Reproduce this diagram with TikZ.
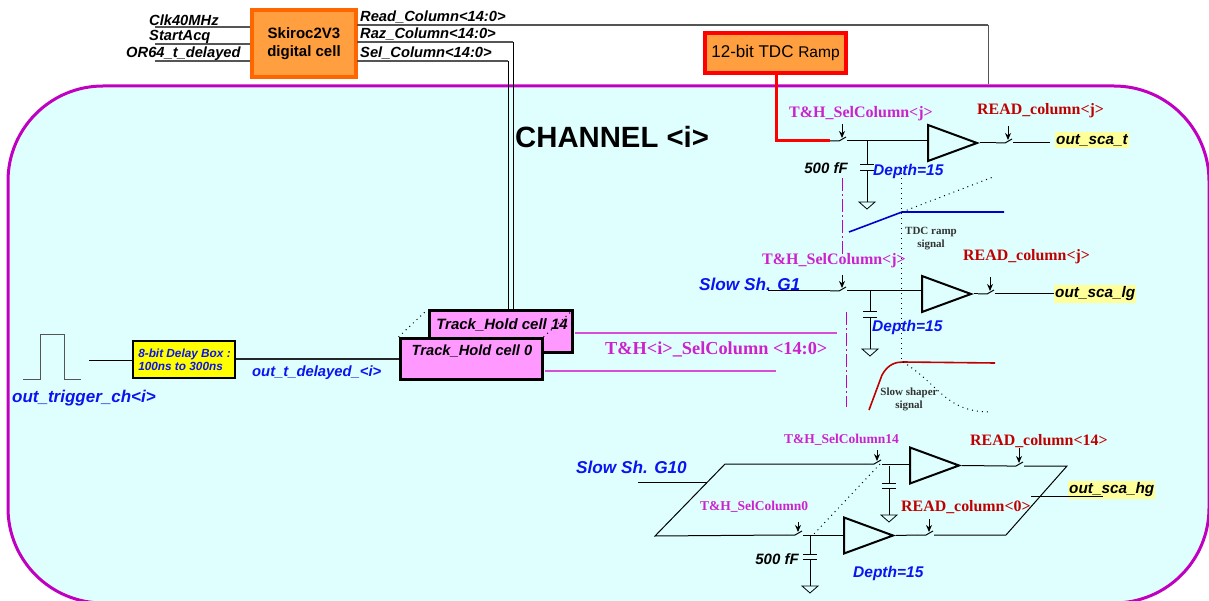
\documentclass[tikz,border=0pt]{standalone}
\usepackage{fontspec}
\setmainfont{Liberation Sans}
\newfontfamily\serifbf{Liberation Serif}
\definecolor{cyanbg}{HTML}{DFFFFF}
\definecolor{purp}{HTML}{C000C0}
\definecolor{magtxt}{HTML}{CC22CC}
\definecolor{redtxt}{HTML}{C00000}
\definecolor{bluetxt}{HTML}{0A14F0}
\definecolor{orangebox}{HTML}{FF9F40}
\definecolor{orangeline}{HTML}{FF6600}
\definecolor{pinkbox}{HTML}{FF99FF}
\definecolor{yellowbox}{HTML}{FFFF00}
\definecolor{hilite}{HTML}{FFFF99}
\definecolor{wiregray}{HTML}{555555}
\usetikzlibrary{arrows.meta,shapes.geometric}
\newcommand{\fs}[1]{\fontsize{#1}{#1}\selectfont}
\tikzset{
  sanslbl/.style={font=\fs{14.7}\bfseries\itshape,inner sep=0pt,anchor=west},
  bluelbl/.style={sanslbl,text=bluetxt},
  depthlbl/.style={sanslbl,text=bluetxt,font=\fs{15.5}\bfseries\itshape},
  slowlbl/.style={sanslbl,text=bluetxt,font=\fs{17.2}\bfseries\itshape},
  faradlbl/.style={font=\fs{15}\bfseries\itshape,inner sep=0pt},
  redlbl/.style={font=\serifbf\fs{15.9}\bfseries,text=redtxt,inner sep=0pt,anchor=west},
  maglbl/.style={font=\serifbf\fs{16}\bfseries,text=magtxt,inner sep=0pt,anchor=west},
  magsmall/.style={font=\serifbf\fs{13.5}\bfseries,text=magtxt,inner sep=0pt,anchor=west},
  sigtxt/.style={font=\serifbf\fs{11}\bfseries,text=black!80,inner sep=0pt,align=center},
  outlbl/.style={sanslbl,font=\fs{15.3}\bfseries\itshape,fill=hilite,inner ysep=2pt,inner xsep=1pt},
  wire/.style={draw=black,line width=1pt},
  thickw/.style={draw=wiregray,line width=1.7pt},
  ctl/.style={-{Stealth[length=7pt,width=6pt]},line width=.9pt},
  amp/.style={draw=black,line width=2pt,fill=none,isosceles triangle,isosceles triangle stretches,
              inner sep=0pt,minimum width=36pt,minimum height=49pt,anchor=lower side},
  gnd/.style={draw=black,line width=.8pt},
  cellbox/.style={draw=black,line width=3pt,fill=pinkbox,minimum width=142pt,minimum height=41pt,inner sep=0pt},
  corange/.style={draw=orangeline,line width=3.5pt,fill=orangebox,inner sep=0pt,align=center},
  seldash/.style={draw=purp,line width=1.2pt,dash pattern=on 13pt off 3pt on 2pt off 3pt},
  selline/.style={draw=magtxt!80,line width=1.4pt},
  dots/.style={draw=black,line width=1pt,dash pattern=on 1pt off 4pt}
}
\begin{document}
\begin{tikzpicture}[x=1pt,y=-1pt]
  \useasboundingbox (0,0) rectangle (1209,601);
  \node[draw=purp,line width=3pt,fill=cyanbg,rounded corners=95pt,minimum width=1201pt,minimum height=517pt,inner sep=0pt] (chan) at (608.5,344.5) {};
  \node[font=\fs{29.3}\bfseries,inner sep=0pt,anchor=west] (chanlbl) at (515,137) {CHANNEL <i>};

  % digital cell and top wires
  \node[corange,minimum width=104pt,minimum height=67pt,font=\fs{15}\bfseries] (skiroc) at (304,43.5) {Skiroc2V3\\[3pt]digital cell};
  \node[corange,draw=red,minimum width=141pt,minimum height=40pt,font=\fs{17}] (tdc) at (775.5,53) {12-bit TDC {\fs{15.5}Ramp}};
  \foreach \n/\y/\t/\xl in {clk/27/Clk40MHz/149,start/44/StartAcq/149,orin/61/OR64\_t\_delayed/126}{
    \coordinate (\n w) at (155,\y);
    \draw[thickw] (\n w) -- (\n w -| skiroc.west);
    \node[sanslbl] (\n lbl) at (\xl,\y-7) {\t};
  }
  \foreach \n/\y/\t in {read/25/Read,raz/42/Raz,sel/61/Sel}{
    \coordinate (\n s) at (357,\y);
    \node[sanslbl] (\n lbl) at (360,\y-8) {\t\_Column<14:0>};
  }
  \node[cellbox,minimum width=143pt] (cell14) at (500.5,331.5) {};
  \coordinate (readc) at (988,25);
  \coordinate (razc) at (513,42);
  \coordinate (selc) at (508,61);
  \draw[thickw] (reads) -- (readc);
  \draw[draw=wiregray,line width=1pt] (readc) -- (readc |- chan.north);
  \draw[thickw] (razs) -- (razc);
  \draw[thickw] (sels) -- (selc);
  \draw[wire] (razc) -- (razc |- cell14.north);
  \draw[wire] (selc) -- (selc |- cell14.north);

  % track and hold cells
  \node[cellbox] (cell0) at (471,359) {};
  \draw[dots] (cell0.north west) -- (cell14.north west);
  \draw[dots] (cell0.north east) -- (cell14.north east);
  \node[font=\fs{15}\bfseries\itshape,inner sep=0pt] (cell14lbl) at (502,325) {Track\_Hold cell 14};
  \node[font=\fs{14.7}\bfseries\itshape,inner sep=0pt] (cell0lbl) at (472,351) {Track\_Hold cell 0};
  \coordinate (sela) at (575,333);
  \coordinate (selb) at (837,333);
  \coordinate (selx) at (545,371);
  \coordinate (sely) at (776,371);
  \draw[selline] (sela) -- (selb);
  \draw[selline] (selx) -- (sely);
  \node[font=\serifbf\fs{18.3}\bfseries,text=magtxt,inner sep=0pt,anchor=west] (sellbl) at (605,349) {T\&H<i>\_SelColumn <14:0>};

  % trigger and delay
  \coordinate (pa) at (23,379);
  \coordinate (pb) at (81,379);
  \coordinate (dly) at (89,360.5);
  \draw[draw=wiregray,line width=1pt] (pa) -- (40,379) -- (40,334) -- (64,334) -- (64,379) -- (pb);
  \node[draw=black,line width=2pt,fill=yellowbox,minimum width=102pt,minimum height=37pt,inner sep=0pt] (delay) at (184,359) {};
  \node[font=\fs{11.8}\bfseries\itshape,text=bluetxt,align=left,inner sep=0pt] (delaylbl) at (184.5,359.5) {8-bit Delay Box :\\[1.5pt]100ns to 300ns};
  \draw[wire] (dly) -- (dly -| delay.west);
  \draw[draw=black!85,line width=1.7pt] (delay.east) -- (cell0.west);
  \node[sanslbl,text=bluetxt,font=\fs{17}\bfseries\itshape] (trig) at (12,398) {out\_trigger\_ch<i>};
  \node[bluelbl,font=\fs{14.8}\bfseries\itshape] (tdel) at (252,373) {out\_t\_delayed\_<i>};

  % switches: name/x/y/top of control arrow
  \foreach \n/\x/\y/\yt in {sa/842/141/124,ra/1008/143/126,sb/842/291/275,rb/990/294/277,sc/877/464/450,rc/1019/466/448,sd/798/535/522,rd/929/535/519}{
    \coordinate (\n l) at (\x-12,\y);
    \coordinate (\n r) at (\x+5,\y);
    \draw[wire] (\n l) -- (\x-3,\y) -- (\x+4,\y-4);
    \coordinate (\n t) at (\x,\yt);
    \draw[ctl] (\n t) -- (\x,\y-3);
  }
  % capacitors: name/x/top/plate/bottom
  \foreach \n/\x/\yt/\yp/\yb in {ca/867/141/165/202,cb/870/291/312/349,cc/889/466/483/515,cd/810/535/554/586}{
    \coordinate (\n t) at (\x,\yt);
    \coordinate (\n b) at (\x,\yb);
    \draw[wire] (\n t) -- (\x,\yp);
    \draw[wire] (\x,\yp+5.5) -- (\n b);
    \draw[wire] (\x-7,\yp) -- (\x+7,\yp);
    \draw[wire] (\x-7,\yp+5.5) -- (\x+7,\yp+5.5);
    \draw[gnd] (\n b) -- ++(-8,0) -- ++(8,7) -- ++(8,-7) -- cycle;
  }

  % amplifiers
  \node[amp] (ampa) at (927,143) {};
  \node[amp] (ampb) at (921,294) {};
  \node[amp] (ampc) at (909,465.5) {};
  \node[amp] (ampd) at (843,535.5) {};

  % channel t
  \coordinate (tdcb) at (776,75);
  \draw[draw=red,line width=3pt] (tdcb) -- (776,141) -- (sal);
  \draw[wire] (sar) -- (sar -| ampa.lower side);
  \coordinate (oa) at (1050,143);
  \draw[wire] (ampa.apex) -- (ral);
  \draw[wire] (rar) -- (oa);
  \node[outlbl] (outa) at (1055,140) {out\_sca\_t};
  \node[maglbl] (tha) at (789,114) {T\&H\_SelColumn<j>};
  \node[redlbl] (rda) at (977,111) {READ\_column<j>};
  \node[faradlbl] (fa) at (826,168) {500 fF};
  \node[depthlbl] (da) at (873,171) {Depth=15};

  % channel lg
  \coordinate (ina) at (768,291);
  \coordinate (ob) at (1054,294);
  \draw[wire] (ina) -- (sbl);
  \draw[wire] (sbr) -- (sbr -| ampb.lower side);
  \draw[wire] (ampb.apex) -- (rbl);
  \draw[wire] (rbr) -- (ob);
  \node[slowlbl] (gb) at (699,284) {Slow Sh. G1};
  \node[outlbl] (outb) at (1054,294) {out\_sca\_lg};
  \node[maglbl] (thb) at (762,261) {T\&H\_SelColumn<j>};
  \node[redlbl] (rdb) at (963,257) {READ\_column<j>};
  \node[depthlbl] (db) at (872,327) {Depth=15};

  % channel hg, two columns
  \coordinate (pul) at (725,464);
  \coordinate (pur) at (1067,466);
  \coordinate (pll) at (655,536);
  \coordinate (plr) at (1006,535);
  \coordinate (inc) at (638,482);
  \coordinate (incb) at (707,482);
  \coordinate (oc) at (1031,496);
  \coordinate (ocb) at (1103,496);
  \draw[wire] (scr) -- (scr -| ampc.lower side);
  \draw[wire] (ampc.apex) -- (rcl);
  \draw[wire] (rcr) -- (pur) -- (plr) -- (rdr);
  \draw[wire] (rdl) -- (ampd.apex);
  \draw[wire] (sdr) -- (sdr -| ampd.lower side);
  \draw[wire] (sdl) -- (pll) -- (pul) -- (scl);
  \draw[wire] (inc) -- (incb);
  \node[outlbl] (outc) at (1068,490) {out\_sca\_hg};
  \draw[wire] (oc) -- (ocb);
  \draw[dots] (880,464) -- (813,535);
  \node[slowlbl] (gc) at (576,467) {Slow Sh. G10};
  \node[magsmall] (thc) at (784,440) {T\&H\_SelColumn14};
  \node[magsmall] (thd) at (700,507) {T\&H\_SelColumn0};
  \node[redlbl] (rdc) at (970,441) {READ\_column<14>};
  \node[redlbl] (rdd) at (901,507) {READ\_column<0>};
  \node[faradlbl] (fd) at (777,559) {500 fF};
  \node[depthlbl] (dd) at (853,573) {Depth=15};

  % signal sketches
  \coordinate (dashT) at (901,168);
  \coordinate (dashB) at (901,362);
  \draw[dots] (dashT) -- (dashB);
  \coordinate (sdaT) at (842.5,178);
  \coordinate (sdaB) at (842.5,255);
  \coordinate (sdbT) at (846.5,312);
  \coordinate (sdbB) at (846.5,407);
  \draw[seldash] (sdaT) -- (sdaB);
  \draw[seldash] (sdbT) -- (sdbB);
  \coordinate (rampk) at (902,212);
  \draw[draw=blue!80!black,line width=1.6pt] (849,232) -- (rampk) -- (1004,212);
  \draw[dots] (rampk) -- (993,177);
  \coordinate (shpk) at (903,362);
  \draw[draw=redtxt,line width=1.6pt] (869,410) -- (882,375) .. controls (888,364) and (896,362) .. (shpk) -- (995,363);
  \draw[dots] (shpk) .. controls (940,385) and (945,412) .. (991,412);
  \node[sigtxt] (tdcsig) at (931,238.5) {TDC ramp\\[2pt]signal};
  \node[sigtxt] (slowsig) at (909,399) {Slow shaper\\[2pt]signal};
\end{tikzpicture}
\end{document}
